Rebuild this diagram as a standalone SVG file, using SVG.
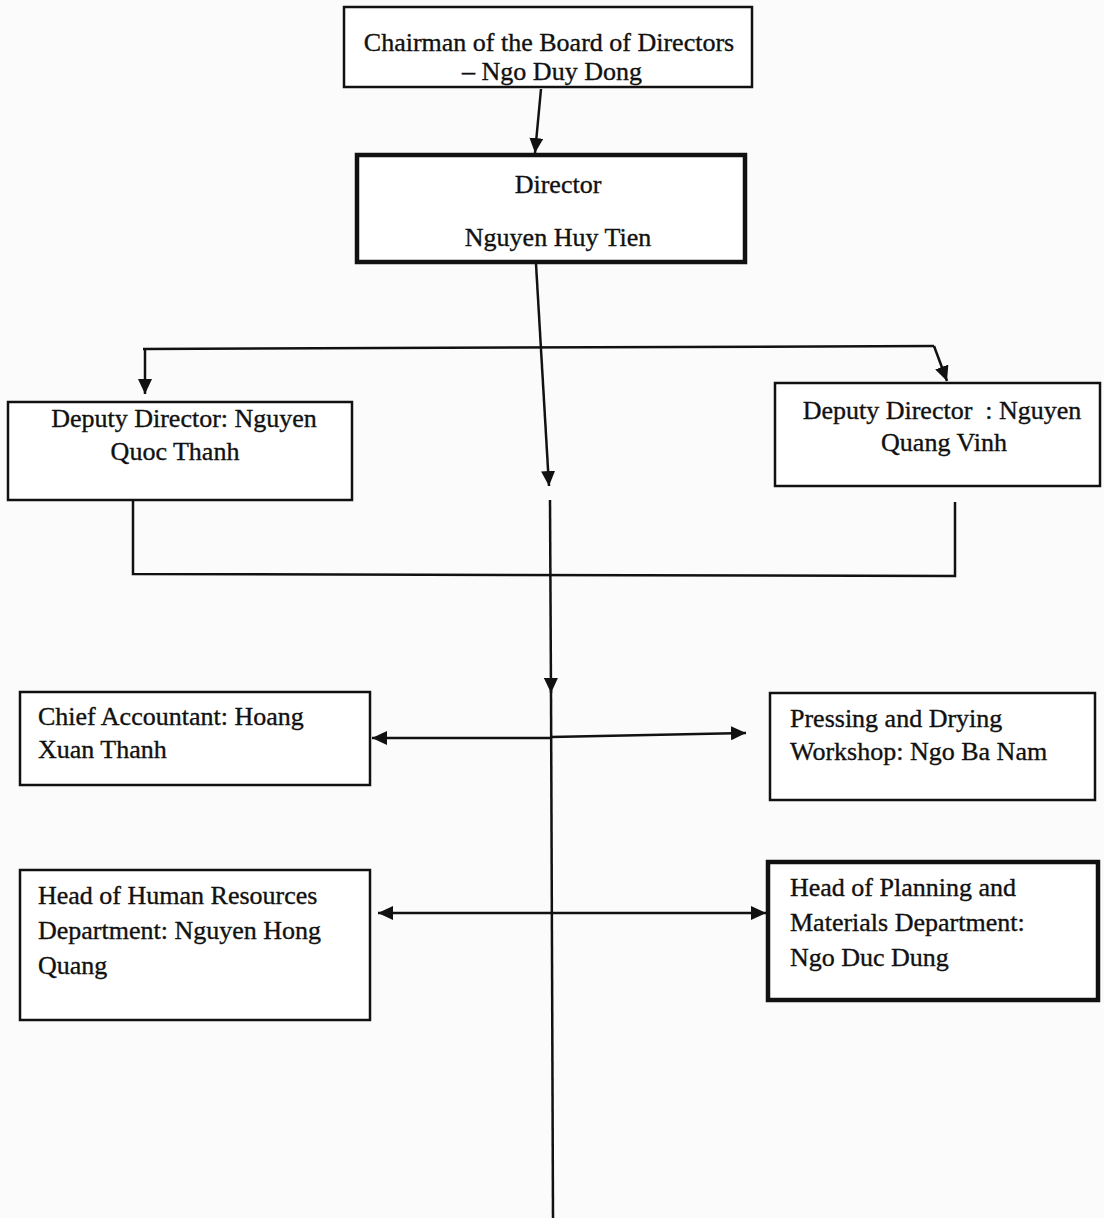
<svg xmlns="http://www.w3.org/2000/svg" width="1104" height="1218" viewBox="0 0 1104 1218">
  <style>
    .box { fill: #ffffff; stroke: #111111; stroke-width: 2.5; }
    .thick { stroke-width: 4.5; }
    .t { font-family: "Liberation Serif", "Times New Roman", serif; font-size: 26px; fill: #111111; stroke: #111111; stroke-width: 0.35; }
    .c { text-anchor: middle; }
    .ln { fill: none; stroke: #111111; stroke-width: 2.5; }
    .arr { fill: none; stroke: #111111; stroke-width: 2.5; marker-end: url(#ah); }
  </style>
  <defs>
    <marker id="ah" markerUnits="userSpaceOnUse" markerWidth="16" markerHeight="14" refX="15" refY="7" orient="auto">
      <path d="M0,0 L15,7 L0,14 z" fill="#111111"/>
    </marker>
  </defs>
  <rect x="0" y="0" width="1104" height="1218" fill="#fbfbfb"/>

  <g id="connectors">
    <line class="arr" x1="541" y1="89" x2="535" y2="153"/>
    <line class="arr" x1="536" y1="264" x2="549" y2="486"/>
    <line class="ln" x1="143" y1="349" x2="934" y2="346"/>
    <line class="arr" x1="145" y1="349" x2="145" y2="394"/>
    <line class="arr" x1="934" y1="346" x2="947" y2="381"/>
    <polyline class="ln" points="133,500 133,574 955,576 955,502"/>
    <line class="arr" x1="550" y1="500" x2="551" y2="693"/>
    <line class="ln" x1="551" y1="690" x2="553" y2="1218"/>
    <line class="arr" x1="551" y1="738" x2="372" y2="738"/>
    <line class="arr" x1="551" y1="737" x2="746" y2="733"/>
    <line class="arr" x1="552" y1="913" x2="378" y2="913"/>
    <line class="arr" x1="552" y1="913" x2="766" y2="913"/>
  </g>

  <g id="chairman">
    <rect class="box" x="344" y="7" width="408" height="80"/>
    <text class="t c" x="549" y="51">Chairman of the Board of Directors</text>
    <text class="t c" x="552" y="80">– Ngo Duy Dong</text>
  </g>

  <g id="director">
    <rect class="box thick" x="357" y="155" width="388" height="107"/>
    <text class="t c" x="558" y="193">Director</text>
    <text class="t c" x="558" y="246">Nguyen Huy Tien</text>
  </g>

  <g id="deputy-left">
    <rect class="box" x="8" y="402" width="344" height="98"/>
    <text class="t c" x="184" y="427">Deputy Director: Nguyen</text>
    <text class="t c" x="175" y="460">Quoc Thanh</text>
  </g>

  <g id="deputy-right">
    <rect class="box" x="775" y="383" width="325" height="103"/>
    <text class="t c" x="942" y="419" xml:space="preserve">Deputy Director  : Nguyen</text>
    <text class="t c" x="944" y="451">Quang Vinh</text>
  </g>

  <g id="chief-accountant">
    <rect class="box" x="20" y="692" width="350" height="93"/>
    <text class="t" x="38" y="725">Chief Accountant: Hoang</text>
    <text class="t" x="38" y="758">Xuan Thanh</text>
  </g>

  <g id="pressing-drying">
    <rect class="box" x="770" y="693" width="325" height="107"/>
    <text class="t" x="790" y="727">Pressing and Drying</text>
    <text class="t" x="790" y="760">Workshop: Ngo Ba Nam</text>
  </g>

  <g id="human-resources">
    <rect class="box" x="20" y="870" width="350" height="150"/>
    <text class="t" x="38" y="904">Head of Human Resources</text>
    <text class="t" x="38" y="939">Department: Nguyen Hong</text>
    <text class="t" x="38" y="974">Quang</text>
  </g>

  <g id="planning-materials">
    <rect class="box thick" x="768" y="862" width="330" height="138"/>
    <text class="t" x="790" y="896">Head of Planning and</text>
    <text class="t" x="790" y="931">Materials Department:</text>
    <text class="t" x="790" y="966">Ngo Duc Dung</text>
  </g>
</svg>
